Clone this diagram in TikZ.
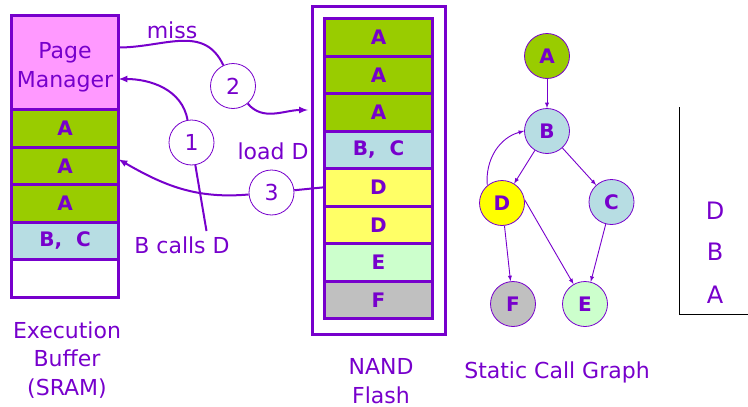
\documentclass[tikz,border=0pt]{standalone}
\usepackage{fontspec}
\setmainfont{DejaVu Sans}
\usepackage{xcolor}
\usepackage{tikz}
\usetikzlibrary{arrows, positioning, calc}

\definecolor{ink}{RGB}{119,0,204}
\definecolor{leaf}{RGB}{153,204,0}
\definecolor{petal}{RGB}{255,153,255}
\definecolor{sky}{RGB}{183,221,227}
\definecolor{lemon}{RGB}{255,255,102}
\definecolor{sun}{RGB}{255,255,0}
\definecolor{mint}{RGB}{204,255,204}
\definecolor{stone}{RGB}{192,192,192}

\begin{document}
\begin{tikzpicture}[x=1pt, y=-1pt, text=ink, font=\fontsize{22}{28.5}\selectfont]
    \tikzstyle{cell} = [rectangle, draw=ink, line width=3pt, outer sep=0pt, inner sep=0pt,
                        minimum width=107pt, minimum height=37.5pt,
                        font=\fontsize{20}{24}\selectfont\bfseries]
    \tikzstyle{fcell} = [cell, minimum width=108pt]
    \tikzstyle{func} = [circle, draw=ink, line width=0.8pt, minimum size=45pt, inner sep=0pt,
                        font=\fontsize{20}{24}\selectfont\bfseries]
    \tikzstyle{numc} = [circle, draw=ink, line width=0.8pt, fill=white, minimum size=45pt, inner sep=0pt]
    \tikzstyle{flow} = [draw=ink, line width=2pt]
    \tikzstyle{call} = [draw=ink, line width=0.9pt, -latex]

    \useasboundingbox (0,0) rectangle (748,407);

    % execution buffer
    \node [cell, fill=petal, minimum height=94pt, align=center,
           font=\fontsize{22}{29}\selectfont] (pm) at (65,62.5) {\rule{0pt}{26pt}Page\\Manager};
    \node [cell, fill=leaf, below=0pt of pm] (a1) {A};
    \node [cell, fill=leaf, below=0pt of a1] (a2) {A};
    \node [cell, fill=leaf, below=0pt of a2] (a3) {A};
    \node [cell, fill=sky, below=0pt of a3] (bc) {B,\ \ C};
    \node [cell, fill=white, below=0pt of bc] (free) {};
    \node [align=center] (execlbl) at (67,360) {Execution\\Buffer\\(SRAM)};

    % nand flash
    \node [fcell, fill=leaf] (n1) at (378.5,37.25) {A};
    \node [fcell, fill=leaf, below=0pt of n1] (n2) {A};
    \node [fcell, fill=leaf, below=0pt of n2] (n3) {A};
    \node [fcell, fill=sky, below=0pt of n3] (n4) {B,\ \ C};
    \node [fcell, fill=lemon, below=0pt of n4] (n5) {D};
    \node [fcell, fill=lemon, below=0pt of n5] (n6) {D};
    \node [fcell, fill=mint, below=0pt of n6] (n7) {E};
    \node [fcell, fill=stone, below=0pt of n7] (n8) {F};
    \draw [ink, line width=2.5pt] ($(n1.north west)+(-12,-12)$) rectangle ($(n8.south east)+(13,16)$);
    \node [align=center, inner sep=1pt] (nandlbl) at (381,381) {NAND\\Flash};

    % steps
    \node [numc] (one) at (191.5,142.5) {1};
    \node [numc] (two) at (233,86) {2};
    \node [numc] (three) at (271.5,192.5) {3};
    \coordinate (missin) at (308,110);
    \coordinate (callsfrom) at (206.5,231);

    \draw [flow] ([yshift=15pt]pm.east) to[out=0, in=115, looseness=1.1] (two);
    \draw [flow, -latex] (two) to[out=-50, in=180] (missin);
    \draw [flow] (callsfrom) -- (one);
    \draw [flow, -latex] (one) to[out=100, in=0] ([yshift=-16.5pt]pm.east);
    \draw [flow] (n5.west) -- (three);
    \draw [flow, -latex] (three) to[out=185, in=-30] ([yshift=6.5pt]a2.east);

    \node (misslbl) at (172,30) {miss};
    \node (loadlbl) at (273,151) {load D};
    \node (callslbl) at (182,245) {B calls D};

    % static call graph
    \node [func, fill=leaf] (ga) at (547,56) {A};
    \node [func, fill=sky] (gb) at (547,131) {B};
    \node [func, fill=sun] (gd) at (502,203) {D};
    \node [func, fill=sky] (gc) at (611.5,202) {C};
    \node [func, fill=stone] (gf) at (513,304) {F};
    \node [func, fill=mint] (ge) at (585,304) {E};

    \draw [call] (ga) -- (gb);
    \draw [call] (gb) -- (gd);
    \draw [call] (gb) -- (gc);
    \draw [call] (gd) -- (gf);
    \draw [call] (gd.8) -- (ge);
    \draw [call] (gc) -- (ge);
    \draw [call] (gd.130) to[out=95, in=195] (gb.west);
    \node (graphlbl) at (557,372) {Static Call Graph};

    % call stack
    \draw [black, line width=0.8pt] (679.5,107) -- (679.5,314) -- (748,314);
    \node [font=\fontsize{24}{28}\selectfont] (sd) at (715,211) {D};
    \node [font=\fontsize{24}{28}\selectfont] (sb) at (715,252) {B};
    \node [font=\fontsize{24}{28}\selectfont] (sa) at (715,295) {A};
\end{tikzpicture}
\end{document}
